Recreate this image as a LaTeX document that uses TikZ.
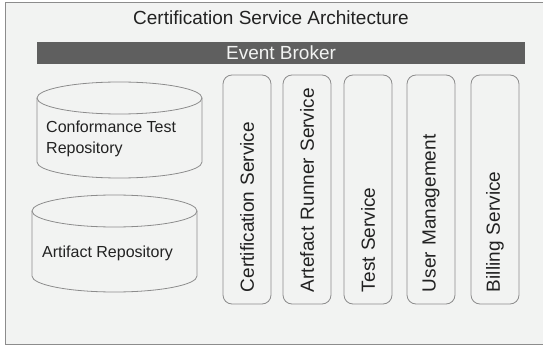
\documentclass[tikz,border=0pt]{standalone}
\usepackage{fontspec}
\setmainfont{Liberation Sans}
\usetikzlibrary{positioning}
\definecolor{panel}{HTML}{F2F3F2}
\definecolor{edge}{HTML}{8C8C8C}
\definecolor{broker}{HTML}{5F5F5F}
\definecolor{ink}{HTML}{222222}
\newcommand{\svctop}{75}
\newcommand{\svcbot}{304}
\newcommand{\rx}{82.5}
\newcommand{\ry}{16}
\tikzset{
  svc/.style={draw=edge, line width=0.8pt, rounded corners=9pt, rotate=90,
    minimum width=229pt, minimum height=48pt, inner xsep=12pt, inner ysep=0pt,
    text width=205pt, align=left, text=ink, font=\fontsize{19}{22}\selectfont},
  repo/.style={draw=edge, line width=0.8pt},
  repotext/.style={anchor=west, align=left, text=ink, inner sep=0pt,
    font=\fontsize{16}{21}\selectfont}
}
\begin{document}
\begin{tikzpicture}[x=1pt,y=-1pt]
                    \useasboundingbox [fill=white] (0,0) rectangle (543,347);
                    \draw [fill=panel, draw=edge, line width=0.9pt] (5,2) rectangle (550,344);
                    \node (title) [text=ink, font=\fontsize{19}{22}\selectfont] at (271,18) {Certification Service Architecture};
                    \node (broker) [fill=broker, minimum width=488pt, minimum height=22pt, inner sep=0pt,
                        text=panel, font=\fontsize{19}{22}\selectfont] at (281,53) {Event Broker};
                    % repositories
                    \draw [repo] (37,98) -- (37,162) arc [start angle=180, end angle=0, x radius=\rx, y radius=\ry] -- (202,98);
                    \draw [repo] (119.5,98) ellipse [x radius=\rx, y radius=\ry];
                    \node (conf) [repotext] at (46,138.5) {Conformance Test\\Repository};
                    \draw [repo] (32,211) -- (32,276) arc [start angle=180, end angle=0, x radius=\rx, y radius=\ry] -- (197,211);
                    \draw [repo] (114.5,211) ellipse [x radius=\rx, y radius=\ry];
                    \node (artifact) [repotext] at (42,253) {Artifact Repository};
                    % services
                    \foreach \x/\name/\txt in {247/cert/Certification Service, 307/runner/Artefact Runner Service,
                        368/test/Test Service, 431/user/User Management, 495/billing/Billing Service}
                    {
                        \node (\name) [svc] at (\x,{(\svctop+\svcbot)/2}) {\txt};
                    }
                \end{tikzpicture}
\end{document}
